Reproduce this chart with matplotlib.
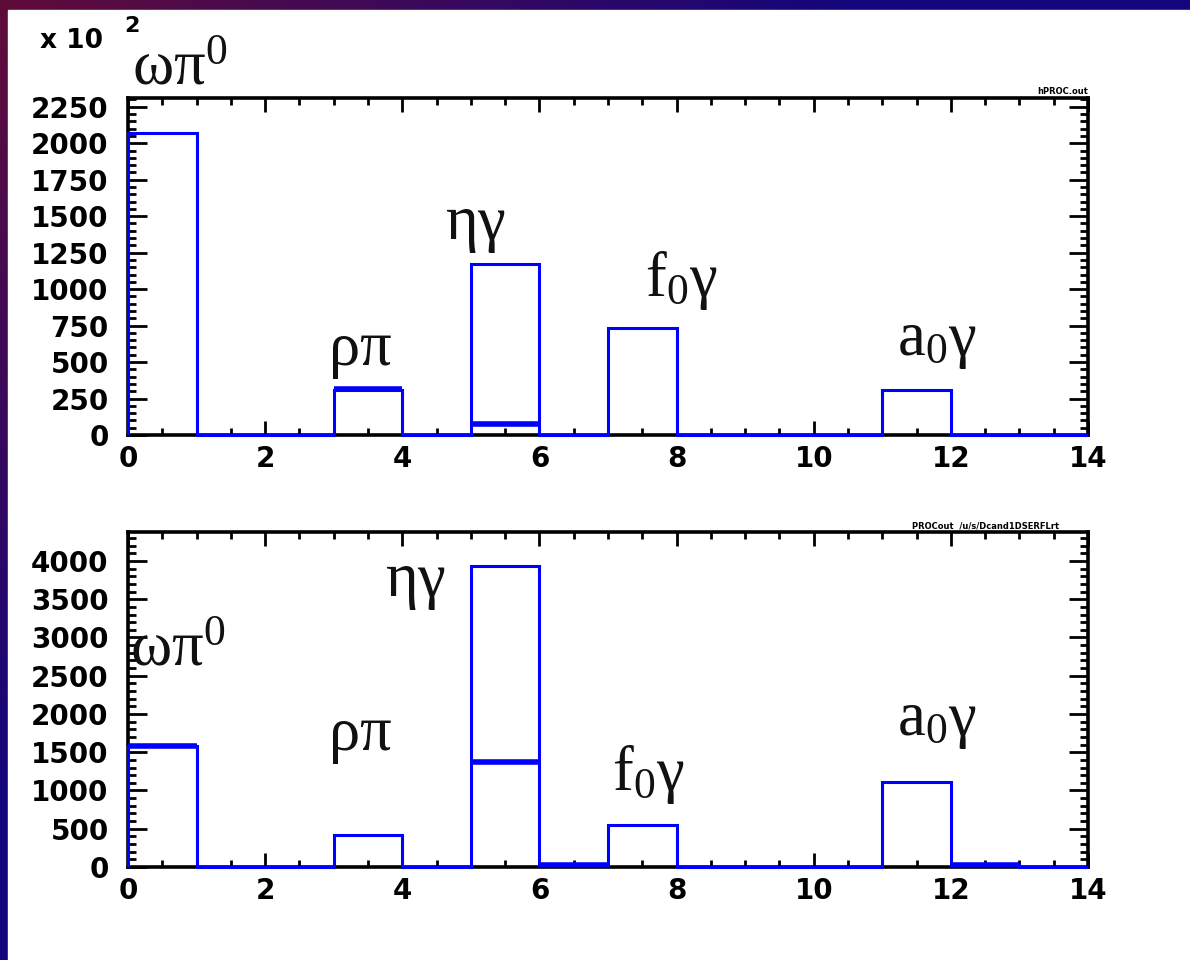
import numpy as np
import matplotlib.pyplot as plt
from matplotlib.patches import Rectangle
from matplotlib.ticker import MultipleLocator

plt.rcParams['mathtext.fontset'] = 'custom'
plt.rcParams['mathtext.rm'] = 'Liberation Serif'
plt.rcParams['mathtext.it'] = 'Liberation Serif:italic'

# ---- histogram contents (14 unit bins from 0 to 14) ----
bin_edges = np.arange(0, 15)

# upper pad, counts in units of 10^2
top_main = [2070, 0, 0, 310, 0, 1170, 0, 730, 0, 0, 0, 310, 0, 0]
top_extra = [0, 0, 0, 315, 0, 75, 0, 0, 0, 0, 0, 0, 0, 0]

# lower pad
bot_main = [1580, 0, 0, 420, 0, 3930, 25, 550, 0, 0, 0, 1110, 30, 0]
bot_extra = [1580, 0, 0, 0, 0, 1370, 25, 0, 0, 0, 0, 0, 30, 0]

# channel labels: text, x, y
top_labels = [(r'$\mathrm{ωπ^0}$', 0.06, 2400),
              (r'$\mathrm{ηγ}$', 4.62, 1346),
              (r'$\mathrm{f_0γ}$', 7.54, 955),
              (r'$\mathrm{ρπ}$', 2.92, 480),
              (r'$\mathrm{a_0γ}$', 11.21, 545)]
bot_labels = [(r'$\mathrm{ωπ^0}$', 0.03, 2640),
              (r'$\mathrm{ηγ}$', 3.75, 3540),
              (r'$\mathrm{ρπ}$', 2.92, 1530),
              (r'$\mathrm{f_0γ}$', 7.06, 1000),
              (r'$\mathrm{a_0γ}$', 11.21, 1720)]

fig = plt.figure(figsize=(11.9, 9.6), dpi=100)

# slide background: dark gradient frame behind a white sheet
bg = fig.add_axes([0, 0, 1, 1], zorder=-10)
gx, gy = np.meshgrid(np.linspace(0, 1, 120), np.linspace(0, 1, 100))
t = np.clip(gx * 1.4 + gy * 1.2, 0, 1)[..., None]
c0 = np.array([0x60, 0x0c, 0x3a]) / 255
c1 = np.array([0x14, 0x06, 0x7c]) / 255
bg.imshow(c0 * (1 - t) + c1 * t, aspect='auto', extent=[0, 1, 0, 1],
          origin='upper', interpolation='bilinear')
bg.add_patch(Rectangle((8 / 1190, 0), 1, 1 - 10 / 960, color='white'))
bg.set_xlim(0, 1)
bg.set_ylim(0, 1)
bg.axis('off')


def draw_pad(ax, main, extra, ymax, ymajor, yminor, labels):
    ax.stairs(main, bin_edges, color='#0000ff', lw=2.2, zorder=3, clip_on=False)
    # second sample drawn as heavier bin levels
    lev = np.array(extra)
    nz = lev > 0
    ax.hlines(lev[nz], bin_edges[:-1][nz], bin_edges[1:][nz],
              color='#0000ff', lw=4, zorder=3)
    ax.set_xlim(0, 14)
    ax.set_ylim(0, ymax)
    ax.xaxis.set_major_locator(MultipleLocator(2))
    ax.xaxis.set_minor_locator(MultipleLocator(0.5))
    ax.yaxis.set_major_locator(MultipleLocator(ymajor))
    ax.yaxis.set_minor_locator(MultipleLocator(yminor))
    ax.tick_params(which='both', direction='in', top=True, right=True,
                   width=2, colors='black')
    ax.tick_params(axis='x', which='major', length=10, pad=7)
    ax.tick_params(axis='x', which='minor', length=5)
    ax.tick_params(axis='y', which='major', length=14, pad=14)
    ax.tick_params(axis='y', which='minor', length=6)
    for lab in ax.get_xticklabels() + ax.get_yticklabels():
        lab.set_fontsize(20)
        lab.set_fontweight('bold')
    for sp in ax.spines.values():
        sp.set_linewidth(2.6)
    for text, x, y in labels:
        ax.text(x, y, text, fontsize=45, ha='left', va='baseline',
                color='#111111', clip_on=False)


ax1 = fig.add_axes([0.1076, 0.5469, 0.8067, 0.351])
draw_pad(ax1, top_main, top_extra, 2310, 250, 50, top_labels)
ax1.text(1.0, 1.005, 'hPROC.out', transform=ax1.transAxes, fontsize=6,
         ha='right', va='bottom', fontweight='bold')

ax2 = fig.add_axes([0.1076, 0.0969, 0.8067, 0.349])
draw_pad(ax2, bot_main, bot_extra, 4380, 500, 100, bot_labels)
ax2.text(0.97, 1.005, 'PROCout  /u/s/Dcand1DSERFLrt', transform=ax2.transAxes,
         fontsize=6, ha='right', va='bottom', fontweight='bold')

# axis multiplier of the upper pad
fig.text(40 / 1190, 1 - 48 / 960, 'x 10', fontsize=19, fontweight='bold',
         ha='left', va='baseline')
fig.text(124 / 1190, 1 - 32 / 960, '2', fontsize=16, fontweight='bold',
         ha='left', va='baseline')

fig.savefig('out.png', dpi=100)
